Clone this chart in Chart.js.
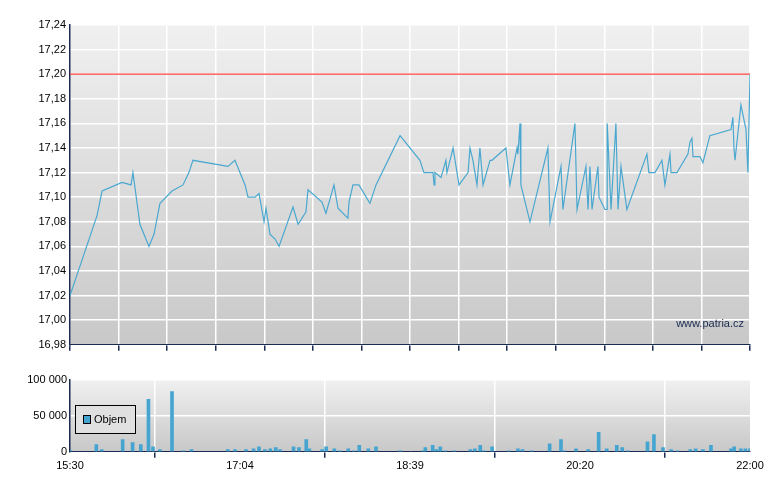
<!DOCTYPE html>
<html>
<head>
<meta charset="utf-8">
<script src="https://cdn.jsdelivr.net/npm/chart.js@4"></script>
<style>
body{margin:0;background:#fff;width:780px;height:490px;overflow:hidden}
#c1{position:absolute;left:0;top:0}
#c2{position:absolute;left:0;top:365px}
</style>
</head>
<body>
<canvas id="c1" width="780" height="370"></canvas>
<canvas id="c2" width="780" height="110"></canvas>
<script>
// minutes since 15:30
var priceMin=[0,15.5,18.4,29.8,35,36.1,40.1,45.3,48.2,51.6,58.5,64.8,68.2,70.5,90.6,94.6,100.4,102.1,106.1,108.4,111.3,112.4,114.7,117.6,119.9,127.9,130.8,135.3,136.5,144.5,146.8,151.4,153.7,159.4,160,162.3,165.7,172,175.5,189.3,200.7,203,208.2,208.8,209.3,212.8,215.6,216.2,219.7,223.1,228.3,229.4,231.1,233.4,235.1,236.9,240.9,242,250,252.3,256.4,256.9,258.1,258.6,263.8,274.1,275.3,281.6,282.7,289.6,290.8,295.9,297.1,298.2,299.4,302.8,303.4,306.8,308,308.1,310.3,313.1,314.3,316,319.4,330.9,332,335.5,339.5,341.2,344.1,344.7,348.1,354.4,355.6,356.7,357.3,361.3,363,367,379.1,380.2,380.8,381.4,384.8,387.7,388.8,390];
var price=[17.02,17.085,17.105,17.112,17.11,17.12,17.078,17.06,17.07,17.095,17.105,17.11,17.12,17.13,17.125,17.13,17.11,17.10,17.10,17.103,17.08,17.091,17.07,17.066,17.06,17.092,17.078,17.088,17.106,17.096,17.087,17.11,17.091,17.083,17.096,17.11,17.11,17.095,17.11,17.15,17.13,17.12,17.12,17.11,17.12,17.116,17.13,17.12,17.14,17.11,17.12,17.14,17.13,17.11,17.14,17.11,17.13,17.13,17.14,17.11,17.14,17.135,17.16,17.11,17.08,17.14,17.08,17.125,17.09,17.16,17.09,17.125,17.09,17.125,17.09,17.125,17.10,17.09,17.09,17.16,17.09,17.16,17.09,17.125,17.09,17.135,17.12,17.12,17.13,17.11,17.135,17.12,17.12,17.135,17.145,17.148,17.133,17.133,17.128,17.15,17.155,17.165,17.14,17.13,17.175,17.155,17.12,17.20];
var refLevel=17.20;
var volMin=[0,15.1,18.2,30.2,35.9,40.6,45,47.6,51.5,58.5,65,69.7,90.5,94.6,100.9,105.3,108.4,111.8,114.9,118,120.4,128.2,131.3,135.5,137.3,144.6,146.9,151.6,154.7,159.6,162.8,165.9,171.1,175.5,189.3,202.3,203.8,208,210.1,212.4,215.3,220.5,229.6,232.2,235.3,237.4,242.1,251.7,256.9,259.5,264.7,275.1,281.6,283.4,290.2,297.2,303.2,307.8,313.6,316.7,319.8,331.2,334.9,340.1,344.8,348.4,355.7,358.8,363,367.6,379.1,380.9,384.8,387.4,390];
var volume=[2000,10000,3000,17000,13000,10000,73000,7000,3000,84000,1500,3000,3000,3000,3000,4000,7000,3000,4000,6000,3000,7000,6000,17000,4000,3000,7000,4000,1500,4000,1500,9000,4000,7000,1500,1500,6000,9000,3000,7000,1500,1500,3000,4000,9000,1500,7000,1500,4000,3000,1500,11000,17000,1500,4000,3000,27000,4000,9000,6000,1500,14000,24000,6000,3000,1500,3000,4000,3000,9000,4000,7000,4000,4000,4000];
var timeTicks=[0,97.5,195,292.5,390];
var timeLabels=['15:30','17:04','18:39','20:20','22:00'];

var axisCol='#1a2a50';
Chart.defaults.font.family='Liberation Sans';
Chart.defaults.font.size=11;
Chart.defaults.color='#000';

var bgPlugin={id:'bg',beforeDraw:function(ch){
  var a=ch.chartArea,ctx=ch.ctx;
  var g=ctx.createLinearGradient(0,a.top,0,a.bottom);
  g.addColorStop(0,'#f0f0f0');g.addColorStop(1,'#c8c8c8');
  ctx.save();ctx.fillStyle=g;ctx.fillRect(a.left,a.top,a.right-a.left,a.bottom-a.top);ctx.restore();
}};
function fixW(s){s.width=70;}

new Chart(document.getElementById('c1'),{
  type:'line',
  data:{datasets:[
    {data:priceMin.map(function(m,i){return {x:m,y:price[i]};}),borderColor:'#4aa8d0',borderWidth:1.2,pointRadius:0,tension:0},
    {data:[{x:0,y:refLevel},{x:390,y:refLevel}],borderColor:'#ff3c3c',borderWidth:1.2,pointRadius:0}
  ]},
  options:{responsive:false,animation:false,
    layout:{padding:{top:25,right:30,left:0,bottom:0}},
    plugins:{legend:{display:false},tooltip:{enabled:false}},
    scales:{
      x:{type:'linear',min:0,max:390,
        afterBuildTicks:function(s){var t=[];for(var i=0;i<=14;i++)t.push({value:390*i/14});s.ticks=t;},
        ticks:{display:true,callback:function(){return '';}},
        grid:{color:'#fff',lineWidth:1.5,drawTicks:true,tickLength:6,tickColor:axisCol},
        border:{color:axisCol}},
      y:{min:16.98,max:17.24,afterFit:fixW,
        ticks:{stepSize:0.02,callback:function(v){return v.toFixed(2).replace('.',',');},padding:4},
        grid:{color:'#fff',lineWidth:1.5,tickLength:0},border:{color:axisCol,width:1.5}}
    }},
  plugins:[bgPlugin,{id:'wm',afterDraw:function(ch){var c=ch.ctx,a=ch.chartArea;c.save();c.fillStyle='#1a2a50';c.font='11px Liberation Sans';c.textAlign='right';c.fillText('www.patria.cz',a.right-6,a.bottom-18);c.restore();}}]
});

new Chart(document.getElementById('c2'),{
  type:'bar',
  data:{datasets:[{label:'Objem',data:volMin.map(function(m,i){return {x:m,y:volume[i]};}),backgroundColor:'#45a5d0',barThickness:3}]},
  options:{responsive:false,animation:false,
    layout:{padding:{top:15,right:30,left:0,bottom:0}},
    plugins:{legend:{display:false},tooltip:{enabled:false}},
    scales:{
      x:{type:'linear',min:0,max:390,offset:false,
        afterBuildTicks:function(s){s.ticks=timeTicks.map(function(v){return {value:v};});},
        ticks:{callback:function(v,i){return timeLabels[i];},maxRotation:0,autoSkip:false,padding:2},
        grid:{color:'#fff',lineWidth:1.5,tickLength:6,tickColor:axisCol},border:{color:axisCol}},
      y:{min:0,max:100000,afterFit:fixW,
        ticks:{stepSize:50000,callback:function(v){return v===0?'0':String(v).replace(/\B(?=(\d{3})+$)/g,' ');}},
        grid:{color:'#fff',lineWidth:1.5,tickLength:0},border:{color:axisCol,width:1.5}}
    }},
  plugins:[bgPlugin,{id:'lg',afterDraw:function(ch){var c=ch.ctx,a=ch.chartArea;c.save();
    c.fillStyle='#e0e0e0';c.fillRect(a.left+5,a.top+25,60,28);c.strokeStyle='#000';c.lineWidth=1;c.strokeRect(a.left+5.5,a.top+25.5,60,28);
    c.fillStyle='#45a5d0';c.fillRect(a.left+13,a.top+35,7,8);c.strokeRect(a.left+13.5,a.top+35.5,7,8);
    c.fillStyle='#000';c.font='11px Liberation Sans';c.textBaseline='middle';c.fillText('Objem',a.left+24,a.top+40);c.restore();}}]
});
</script>
</body>
</html>
